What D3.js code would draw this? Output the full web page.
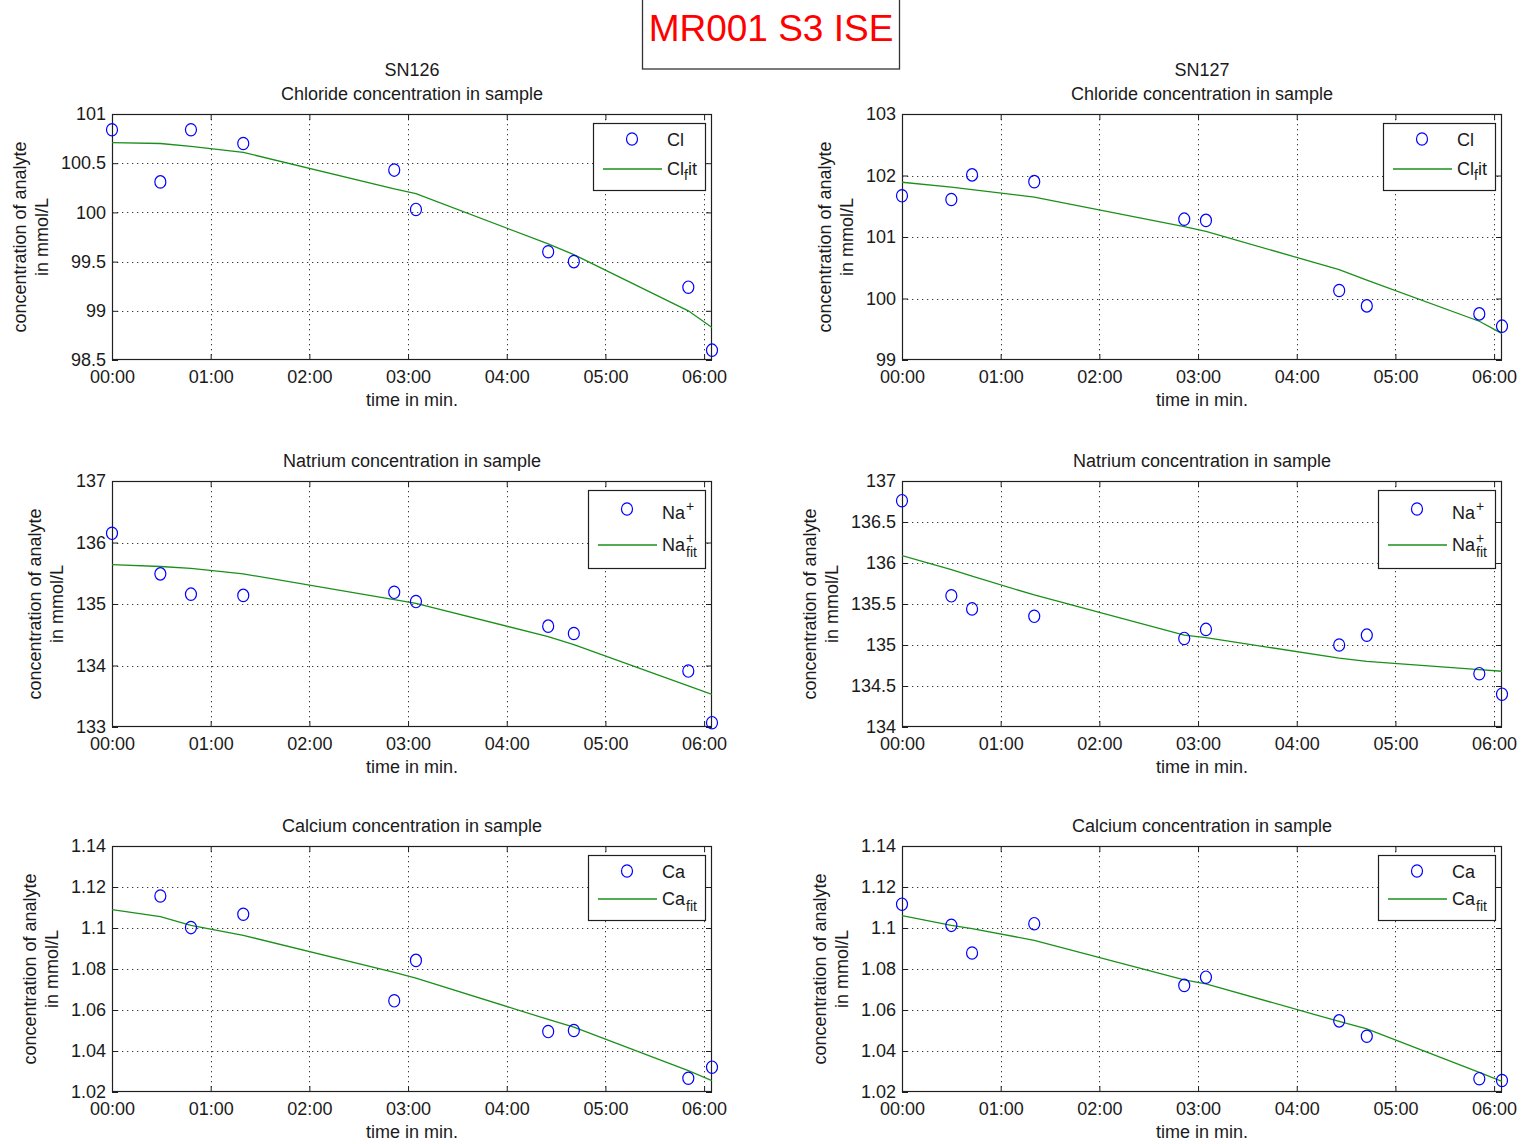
<!DOCTYPE html>
<html>
<head>
<meta charset="utf-8">
<script src="https://cdn.jsdelivr.net/npm/d3@7"></script>
<style>
  body { margin: 0; background: #fff; }
  text { font-family: "Liberation Sans", Arial, Helvetica, sans-serif; fill: #1a1a1a; }
</style>
</head>
<body>
<svg id="fig" width="1523" height="1144"></svg>
<script>
// ---- data -------------------------------------------------------------
// measurement times in minutes, one list per sensor
const timesSN126 = [0, 0.49, 0.80, 1.33, 2.86, 3.08, 4.42, 4.68, 5.84, 6.08];
const timesSN127 = [0, 0.50, 0.71, 1.34, 2.86, 3.08, 4.43, 4.71, 5.85, 6.08];

const timeTicks = [0, 1, 2, 3, 4, 5, 6];
const timeTickLabels = ["00:00", "01:00", "02:00", "03:00", "04:00", "05:00", "06:00"];

// chloride (mmol/L)
const clSN126    = [100.84, 100.31, 100.84, 100.70, 100.43, 100.03, 99.60, 99.50, 99.24, 98.60];
const clFitSN126 = [100.71, 100.70, 100.67, 100.61, 100.24, 100.19, 99.68, 99.57, 99.00, 98.83];
const clSN127    = [101.67, 101.61, 102.01, 101.90, 101.29, 101.27, 100.13, 99.88, 99.75, 99.55];
const clFitSN127 = [101.89, 101.81, 101.77, 101.65, 101.17, 101.09, 100.47, 100.30, 99.63, 99.43];

// sodium (mmol/L)
const naSN126    = [136.15, 135.49, 135.16, 135.14, 135.19, 135.04, 134.64, 134.52, 133.91, 133.07];
const naFitSN126 = [135.64, 135.61, 135.58, 135.49, 135.07, 135.01, 134.47, 134.34, 133.67, 133.53];
const naSN127    = [136.76, 135.60, 135.44, 135.35, 135.08, 135.19, 135.00, 135.12, 134.65, 134.40];
const naFitSN127 = [136.09, 135.92, 135.84, 135.61, 135.12, 135.09, 134.84, 134.80, 134.70, 134.68];

// calcium (mmol/L); first SN126 reading is missing
const caSN126    = [null, 1.1156, 1.1002, 1.1067, 1.0645, 1.0842, 1.0495, 1.0500, 1.0267, 1.0321];
const caFitSN126 = [1.1090, 1.1055, 1.1013, 1.0964, 1.0784, 1.0756, 1.0554, 1.0516, 1.0304, 1.0255];
const caSN127    = [1.1116, 1.1013, 1.0878, 1.1021, 1.0720, 1.0760, 1.0547, 1.0472, 1.0265, 1.0256];
const caFitSN127 = [1.1060, 1.1013, 1.0997, 1.0940, 1.0747, 1.0728, 1.0544, 1.0508, 1.0296, 1.0252];

// y tick values and their labels
const clTicksSN126 = [98.5, 99, 99.5, 100, 100.5, 101];
const clTickLabelsSN126 = ["98.5", "99", "99.5", "100", "100.5", "101"];
const clTicksSN127 = [99, 100, 101, 102, 103];
const clTickLabelsSN127 = ["99", "100", "101", "102", "103"];
const naTicksSN126 = [133, 134, 135, 136, 137];
const naTickLabelsSN126 = ["133", "134", "135", "136", "137"];
const naTicksSN127 = [134, 134.5, 135, 135.5, 136, 136.5, 137];
const naTickLabelsSN127 = ["134", "134.5", "135", "135.5", "136", "136.5", "137"];
const caTicks = [1.02, 1.04, 1.06, 1.08, 1.1, 1.12, 1.14];
const caTickLabels = ["1.02", "1.04", "1.06", "1.08", "1.1", "1.12", "1.14"];

const figureTitle = "MR001 S3 ISE";
const sensorNames = ["SN126", "SN127"];
const panelTitles = ["Chloride concentration in sample", "Natrium concentration in sample", "Calcium concentration in sample"];
const yLabelLines = ["concentration of analyte", "in mmol/L"];
const xLabel = "time in min.";

// ---- layout -----------------------------------------------------------
const colX = [112, 902];
const rowY = [114, 481, 846];
const plotW = 600, plotH = 246;
const timeMax = 6.08;
const fontSize = 18;

const panels = [
  { row: 0, col: 0, times: timesSN126, pts: clSN126, fit: clFitSN126, dom: [98.5, 101], ticks: clTicksSN126, labels: clTickLabelsSN126, legend: "cl" },
  { row: 0, col: 1, times: timesSN127, pts: clSN127, fit: clFitSN127, dom: [99, 103], ticks: clTicksSN127, labels: clTickLabelsSN127, legend: "cl" },
  { row: 1, col: 0, times: timesSN126, pts: naSN126, fit: naFitSN126, dom: [133, 137], ticks: naTicksSN126, labels: naTickLabelsSN126, legend: "na" },
  { row: 1, col: 1, times: timesSN127, pts: naSN127, fit: naFitSN127, dom: [134, 137], ticks: naTicksSN127, labels: naTickLabelsSN127, legend: "na" },
  { row: 2, col: 0, times: timesSN126, pts: caSN126, fit: caFitSN126, dom: [1.02, 1.14], ticks: caTicks, labels: caTickLabels, legend: "ca" },
  { row: 2, col: 1, times: timesSN127, pts: caSN127, fit: caFitSN127, dom: [1.02, 1.14], ticks: caTicks, labels: caTickLabels, legend: "ca" }
];

// legend geometry per analyte (offsets inside the legend box)
const legendLayout = {
  cl: { rowA: 16, rowB: 46, h: 67 },
  na: { rowA: 19, rowB: 55, h: 78 },
  ca: { rowA: 16, rowB: 44, h: 65 }
};

const svg = d3.select("#fig");
const defs = svg.append("defs");

const axisColor = "#1f1f1f";
const gridColor = "#3a3a3a";
const markerColor = "#0000ff";
const fitColor = "#1a901a";

// ---- figure title box -------------------------------------------------
svg.append("rect")
  .attr("x", 642.5).attr("y", -2).attr("width", 257).attr("height", 71)
  .attr("fill", "#fff").attr("stroke", "#333").attr("stroke-width", 1.3);
svg.append("text")
  .attr("x", 771).attr("y", 41)
  .attr("text-anchor", "middle")
  .attr("font-size", 37)
  .style("fill", "#ff0000")
  .text(figureTitle);

// ---- panels -----------------------------------------------------------
panels.forEach((p, i) => {
  const x0 = colX[p.col], y0 = rowY[p.row];
  const x = d3.scaleLinear().domain([0, timeMax]).range([x0, x0 + plotW]);
  const y = d3.scaleLinear().domain(p.dom).range([y0 + plotH, y0]);
  const g = svg.append("g");

  // white axes area
  g.append("rect").attr("x", x0).attr("y", y0).attr("width", plotW).attr("height", plotH).attr("fill", "#fff");

  // dotted grid
  const innerY = p.ticks.filter(v => v > p.dom[0] && v < p.dom[1]);
  const innerX = timeTicks.filter(v => v > 0 && v < timeMax);
  g.selectAll(".gy").data(innerY).join("line")
    .attr("x1", x0).attr("x2", x0 + plotW)
    .attr("y1", d => Math.round(y(d)) + 0.5).attr("y2", d => Math.round(y(d)) + 0.5)
    .attr("stroke", gridColor).attr("stroke-width", 1).attr("stroke-dasharray", "1.3,3.7");
  g.selectAll(".gx").data(innerX).join("line")
    .attr("x1", d => Math.round(x(d)) + 0.5).attr("x2", d => Math.round(x(d)) + 0.5)
    .attr("y1", y0).attr("y2", y0 + plotH)
    .attr("stroke", gridColor).attr("stroke-width", 1).attr("stroke-dasharray", "1.3,3.7");

  // ticks via d3 axes, drawn inward on all four sides
  const tl = 6;
  const axL = d3.axisLeft(y).tickValues(p.ticks).tickFormat((d, k) => p.labels[k]).tickSizeInner(-tl).tickSizeOuter(0).tickPadding(6);
  const axR = d3.axisRight(y).tickValues(p.ticks).tickFormat("").tickSizeInner(-tl).tickSizeOuter(0);
  const axB = d3.axisBottom(x).tickValues(timeTicks).tickFormat((d, k) => timeTickLabels[k]).tickSizeInner(-tl).tickSizeOuter(0).tickPadding(10);
  const axT = d3.axisTop(x).tickValues(timeTicks).tickFormat("").tickSizeInner(-tl).tickSizeOuter(0);

  const gL = g.append("g").attr("transform", `translate(${x0},0)`).call(axL);
  g.append("g").attr("transform", `translate(${x0 + plotW},0)`).call(axR);
  g.append("g").attr("transform", `translate(0,${y0 + plotH})`).call(axB);
  g.append("g").attr("transform", `translate(0,${y0})`).call(axT);
  g.selectAll(".domain").remove();
  g.selectAll(".tick line").attr("stroke", axisColor).attr("stroke-width", 1);
  g.selectAll(".tick text").attr("font-size", fontSize).attr("font-family", null).style("fill", "#1a1a1a");

  // box
  g.append("rect").attr("x", x0 + 0.5).attr("y", y0 + 0.5).attr("width", plotW - 1).attr("height", plotH - 1)
    .attr("fill", "none").attr("stroke", axisColor).attr("stroke-width", 1.2);

  // fit line (clipped to the axes)
  const clipId = "clip" + i;
  defs.append("clipPath").attr("id", clipId)
    .append("rect").attr("x", x0).attr("y", y0).attr("width", plotW).attr("height", plotH);
  const line = d3.line().x((d, k) => x(p.times[k])).y(d => y(d));
  g.append("path").datum(p.fit)
    .attr("d", line)
    .attr("clip-path", `url(#${clipId})`)
    .attr("fill", "none").attr("stroke", fitColor).attr("stroke-width", 1.3);

  // measured points
  const pts = p.pts.map((v, k) => ({ t: p.times[k], v })).filter(d => d.v != null);
  g.selectAll(".pt").data(pts).join("ellipse")
    .attr("cx", d => x(d.t)).attr("cy", d => y(d.v))
    .attr("rx", 5.5).attr("ry", 6.2)
    .attr("fill", "none").attr("stroke", markerColor).attr("stroke-width", 1.2);

  // titles
  const cx = x0 + plotW / 2;
  if (p.row === 0) {
    g.append("text").attr("x", cx).attr("y", y0 - 38).attr("text-anchor", "middle")
      .attr("font-size", fontSize).text(sensorNames[p.col]);
  }
  g.append("text").attr("x", cx).attr("y", y0 - 14).attr("text-anchor", "middle")
    .attr("font-size", fontSize).text(panelTitles[p.row]);

  // x label
  g.append("text").attr("x", cx).attr("y", y0 + plotH + 46).attr("text-anchor", "middle")
    .attr("font-size", fontSize).text(xLabel);

  // y label placed left of the widest tick label
  let minLeft = Infinity;
  gL.selectAll(".tick text").each(function () {
    minLeft = Math.min(minLeft, x0 + this.getBBox().x);
  });
  const ly1 = minLeft - 41, ly2 = ly1 + 22, lcy = y0 + plotH / 2;
  [ly1, ly2].forEach((lx, k) => {
    g.append("text")
      .attr("transform", `translate(${lx},${lcy}) rotate(-90)`)
      .attr("text-anchor", "middle").attr("dy", "0.35em")
      .attr("font-size", fontSize).text(yLabelLines[k]);
  });

  // legend
  drawLegend(g, p.legend, x0 + plotW, y0);
});

// legend with TeX-like sub/superscripts
function drawLegend(g, kind, axRight, axTop) {
  const L = legendLayout[kind];
  const lg = g.append("g");
  const sub = 14;
  const box = lg.append("rect").attr("fill", "#fff").attr("stroke", axisColor).attr("stroke-width", 1.2);
  const textX = 74;
  const base = kind === "cl" ? "Cl" : (kind === "na" ? "Na" : "Ca");

  // first entry: marker
  lg.append("ellipse").attr("cx", 39).attr("cy", L.rowA).attr("rx", 5.5).attr("ry", 6.2)
    .attr("fill", "none").attr("stroke", markerColor).attr("stroke-width", 1.2);
  const rowAText = kind === "na" ? L.rowA + 10 : L.rowA + 7;
  const t1 = lg.append("text").attr("x", textX).attr("y", rowAText).attr("font-size", fontSize).text(base);
  const w1 = t1.node().getComputedTextLength();
  let maxW = w1;
  if (kind === "na") {
    lg.append("text").attr("x", textX + w1 + 1).attr("y", rowAText - 8).attr("font-size", sub).text("+");
    maxW = w1 + 1 + 8;
  }

  // second entry: line
  lg.append("line").attr("x1", 10).attr("x2", 69).attr("y1", L.rowB).attr("y2", L.rowB)
    .attr("stroke", fitColor).attr("stroke-width", 1.3);
  const rowBText = L.rowB + 6;
  const t2 = lg.append("text").attr("x", textX).attr("y", rowBText).attr("font-size", fontSize).text(base);
  const w2 = t2.node().getComputedTextLength();
  let w2tot = w2;
  if (kind === "cl") {
    const s = lg.append("text").attr("x", textX + w2).attr("y", rowBText + 5).attr("font-size", sub).text("f");
    const ws = s.node().getComputedTextLength();
    const r = lg.append("text").attr("x", textX + w2 + ws).attr("y", rowBText).attr("font-size", fontSize).text("it");
    w2tot = w2 + ws + r.node().getComputedTextLength();
  } else if (kind === "na") {
    lg.append("text").attr("x", textX + w2 + 1).attr("y", rowBText - 8).attr("font-size", sub).text("+");
    const s = lg.append("text").attr("x", textX + w2 + 1).attr("y", rowBText + 6).attr("font-size", sub).text("fit");
    w2tot = w2 + 1 + s.node().getComputedTextLength();
  } else {
    const s = lg.append("text").attr("x", textX + w2 + 1).attr("y", rowBText + 6).attr("font-size", sub).text("fit");
    w2tot = w2 + 1 + s.node().getComputedTextLength();
  }
  maxW = Math.max(maxW, w2tot);
  const boxW = Math.round(textX + maxW + 8);
  box.attr("x", 0.5).attr("y", 0.5).attr("width", boxW).attr("height", L.h);
  lg.attr("transform", `translate(${axRight - 7 - boxW},${axTop + 9})`);
}
</script>
</body>
</html>
